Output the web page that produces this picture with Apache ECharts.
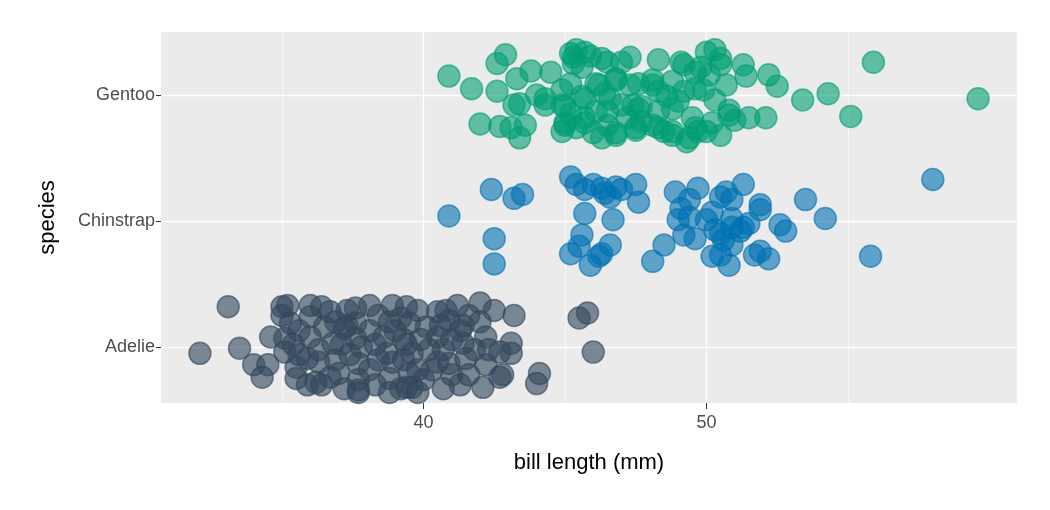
<!DOCTYPE html>
<html><head><meta charset="utf-8">
<script src="https://cdn.jsdelivr.net/npm/echarts@6/dist/echarts.min.js"></script>
<style>html,body{margin:0;padding:0;background:#fff}#c{width:1050px;height:510px}</style>
</head><body><div id="c"></div><script>
const speciesLabels = ['Adelie', 'Chinstrap', 'Gentoo'];
const xTicks = [40, 50];
const xMinorTicks = [35, 45, 55];
const yTicks = [1, 2, 3];

const adelieLength = [33.1,32.1,33.5,34.0,34.5,34.3,34.6,35.0,35.2,35.0,
36.0,36.4,35.5,35.9,36.4,37.7,37.3,38.1,38.4,38.9,
39.4,37.3,37.6,35.1,35.6,36.0,36.5,36.8,37.2,37.4,
37.8,38.1,38.6,38.7,39.3,39.6,35.5,35.9,36.3,36.9,
37.7,38.1,36.2,36.7,37.0,37.7,37.7,38.8,39.2,39.6,
39.8,38.9,35.3,36.0,36.9,37.6,38.8,39.5,39.8,40.5,
40.8,41.2,42.0,42.5,43.2,42.0,41.6,40.9,40.1,40.5,
41.0,41.4,42.2,42.7,43.1,43.1,39.4,40.5,40.9,41.5,
42.2,42.8,40.3,41.0,39.5,39.4,39.8,40.7,42.1,42.7,
44.1,44.0,45.5,45.8,46.0,
35.4,36.3,37.1,38.3,39.0,39.9,40.2,40.7,41.3,41.8,
35.6,37.2,38.3,38.8,40.0,41.3,41.6,35.1,37.6,38.4,
39.3,40.6,41.4,42.3,36.7,39.2];
const adelieJitter = [0.32,-0.05,-0.01,-0.14,-0.14,-0.24,0.08,0.32,0.33,0.25,
0.33,0.32,-0.25,-0.30,-0.30,-0.36,0.17,0.33,0.25,0.33,
0.32,0.29,0.31,0.07,0.13,0.08,0.16,0.03,0.15,-0.06,
0.00,0.13,0.08,-0.05,0.06,-0.05,-0.16,-0.09,-0.12,-0.10,
-0.13,-0.18,-0.28,-0.24,-0.21,-0.34,-0.26,-0.25,-0.33,-0.32,
-0.18,-0.12,0.19,0.24,0.20,0.19,0.20,0.19,0.29,0.28,
0.29,0.33,0.35,0.29,0.25,0.20,0.25,0.21,0.16,0.08,
0.06,0.03,0.08,-0.04,0.03,-0.05,0.02,-0.12,-0.13,-0.09,
-0.14,-0.22,-0.18,-0.22,-0.21,-0.32,-0.36,-0.33,-0.32,-0.24,
-0.21,-0.29,0.23,0.27,-0.04,
0.02,-0.02,0.02,0.02,0.13,0.06,-0.02,-0.02,0.13,-0.02,
-0.06,-0.33,-0.30,-0.36,-0.26,-0.30,-0.22,-0.04,0.07,-0.10,
-0.10,0.17,0.17,-0.02,0.28,0.23];

const chinstrapLength = [40.9,42.4,43.2,43.5,42.5,42.5,45.2,45.4,45.7,46.0,
46.4,46.8,47.0,46.3,46.6,47.5,47.6,45.7,46.7,45.6,
45.2,45.5,46.6,46.3,45.9,46.2,48.9,49.1,49.0,49.2,
48.5,48.1,49.7,49.4,49.6,50.0,50.2,50.5,50.7,50.9,
51.3,50.9,50.9,51.3,51.5,51.2,50.9,50.5,50.2,50.5,
50.8,51.7,51.9,52.2,51.9,51.9,52.6,52.8,53.5,54.2,
55.8,58.0,50.3,50.6,49.4];
const chinstrapJitter = [0.04,0.25,0.18,0.21,-0.14,-0.34,0.35,0.29,0.25,0.29,
0.22,0.27,0.25,0.26,0.19,0.29,0.15,0.06,0.01,-0.11,
-0.26,-0.20,-0.19,-0.26,-0.35,-0.28,0.23,0.10,0.01,-0.11,
-0.19,-0.32,0.26,0.03,-0.14,0.01,0.07,0.19,0.23,0.17,
0.29,0.02,-0.05,-0.05,-0.02,-0.08,-0.19,-0.10,-0.28,-0.27,
-0.35,-0.27,-0.24,-0.30,0.13,0.09,-0.03,-0.08,0.17,0.02,
-0.28,0.33,-0.07,-0.15,0.17];

const gentooLength = [40.9,41.7,42.6,42.9,42.6,43.3,43.8,44.5,44.9,43.4,
43.2,44.0,44.3,44.9,42.0,42.7,43.1,43.6,43.4,45.2,
45.4,45.7,45.3,45.6,46.3,46.5,47.3,48.3,45.2,45.0,
44.9,45.4,45.7,46.2,46.8,47.3,47.6,46.1,46.5,46.3,
46.8,47.4,47.7,47.5,48.3,48.3,46.6,45.7,49.2,49.6,
45.0,45.6,46.1,46.8,48.1,48.8,49.2,46.5,47.0,47.6,
48.3,48.8,45.0,45.7,46.0,46.8,47.5,48.1,48.5,48.8,
49.3,49.6,50.0,50.3,50.5,50.5,49.8,51.3,51.4,52.2,
52.5,53.4,54.3,55.1,55.9,59.6,52.1,51.0,50.8,50.7,
49.9,50.3,49.0,49.5,50.0,50.5,49.4,50.8,48.8,49.7,
47.7,48.1,45.3,45.9,44.3,49.1,47.0,48.6,49.6,50.1,
51.5,46.4,45.2,47.2,50.2];
const gentooJitter = [0.15,0.05,0.25,0.32,0.03,0.13,0.19,0.18,0.04,-0.07,
-0.08,0.00,-0.08,-0.08,-0.23,-0.25,-0.26,-0.24,-0.34,0.33,
0.36,0.34,0.25,0.22,0.29,0.26,0.30,0.28,0.09,-0.22,
-0.29,-0.26,-0.03,0.08,0.12,0.08,0.09,-0.13,-0.24,-0.34,
-0.32,-0.08,-0.21,-0.28,0.03,-0.26,-0.03,-0.18,0.24,0.18,
-0.09,-0.01,0.09,0.13,0.08,0.11,0.03,-0.13,-0.08,-0.11,
-0.13,-0.11,-0.24,-0.22,-0.30,-0.30,-0.26,-0.24,-0.29,-0.32,
-0.37,-0.26,0.34,0.36,0.29,0.24,0.22,0.24,0.15,0.16,
0.07,-0.04,0.01,-0.17,0.26,-0.03,-0.18,-0.20,-0.12,0.08,
0.04,-0.04,-0.05,-0.18,-0.29,-0.32,-0.34,-0.16,-0.29,-0.29,
-0.09,0.12,0.30,0.31,-0.03,0.26,0.26,-0.01,0.05,0.16,
-0.18,0.01,-0.15,-0.18,-0.22];

const colors = ['rgba(52,73,94,0.62)', 'rgba(0,114,178,0.6)', 'rgba(0,158,115,0.6)'];
const FONT = 'Liberation Sans, Arial, sans-serif';

function build(len, jit, level) {
  return len.map((v, i) => [v, level + jit[i]]);
}
const groups = [
  build(adelieLength, adelieJitter, 1),
  build(chinstrapLength, chinstrapJitter, 2),
  build(gentooLength, gentooJitter, 3)
];

const chart = echarts.init(document.getElementById('c'), null, {renderer: 'canvas'});
chart.setOption({
  animation: false,
  backgroundColor: '#ffffff',
  grid: {left: 161, right: 33, top: 32, bottom: 107, show: true, backgroundColor: '#EBEBEB', borderWidth: 0},
  xAxis: [{
    type: 'value', min: 30.725, max: 60.975,
    axisLine: {show: false},
    axisTick: {show: true, length: 6, customValues: xTicks, lineStyle: {color: '#333333', width: 1}},
    axisLabel: {customValues: xTicks, color: '#4D4D4D', fontSize: 18, fontFamily: FONT, margin: 11},
    splitLine: {show: true, lineStyle: {color: '#ffffff', width: 1.3}},
    name: 'bill length (mm)', nameLocation: 'middle', nameGap: 49,
    nameTextStyle: {color: '#000000', fontSize: 22, fontFamily: FONT}
  }, {
    type: 'value', min: 30.725, max: 60.975, position: 'bottom',
    axisLine: {show: false},
    axisTick: {show: false, customValues: xMinorTicks},
    axisLabel: {show: false, customValues: xMinorTicks},
    splitLine: {show: true, lineStyle: {color: '#ffffff', width: 0.6}}
  }],
  yAxis: {
    type: 'value', min: 0.556, max: 3.5,
    axisLine: {show: false},
    axisTick: {show: true, length: 5, customValues: yTicks, lineStyle: {color: '#333333', width: 1}},
    axisLabel: {customValues: yTicks, color: '#4D4D4D', fontSize: 18, fontFamily: FONT, margin: 6,
      formatter: v => speciesLabels[Math.round(v) - 1]},
    splitLine: {show: true, lineStyle: {color: '#ffffff', width: 1.3}},
    name: 'species', nameLocation: 'middle', nameGap: 102, nameRotate: 90,
    nameTextStyle: {color: '#000000', fontSize: 22, fontFamily: FONT}
  },
  series: groups.map((d, i) => ({
    type: 'scatter', name: speciesLabels[i], data: d, xAxisIndex: 0,
    symbol: 'circle', symbolSize: 22, silent: true,
    itemStyle: {color: colors[i], borderColor: colors[i], borderWidth: 1.5, opacity: 1},
    emphasis: {disabled: true}
  }))
});
</script></body></html>
